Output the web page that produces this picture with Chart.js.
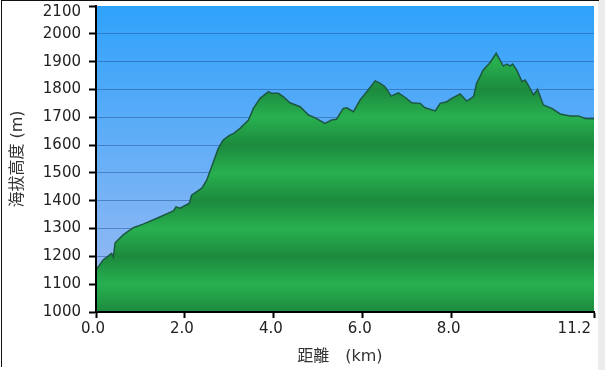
<!DOCTYPE html>
<html>
<head>
<meta charset="utf-8">
<script src="https://cdn.jsdelivr.net/npm/chart.js@4.4.1/dist/chart.umd.min.js"></script>
<style>
  html, body { margin: 0; padding: 0; background: #ffffff; }
  #wrap { position: relative; width: 605px; height: 370px; overflow: hidden; }
  #frame { position: absolute; left: 1px; top: 0; width: 597px; height: 366px;
           border-top: 1px solid #111; border-left: 1px solid #111; pointer-events: none; }
  #strip { position: absolute; left: 598px; top: 0; width: 7px; height: 370px; background: #ececec; }
  canvas { position: absolute; left: 0; top: 0; }
</style>
</head>
<body>
<div id="wrap">
  <canvas id="c" width="605" height="370"></canvas>
  <div id="strip"></div>
  <div id="frame"></div>
</div>
<script>
// ---- data ----
const distanceKm = [
  0.00, 0.16, 0.35, 0.39, 0.43, 0.61, 0.84, 1.06, 1.37, 1.74, 1.80, 1.89,
  2.10, 2.15, 2.38, 2.49, 2.60, 2.75, 2.86, 3.01, 3.10, 3.24, 3.43, 3.54,
  3.69, 3.88, 3.95, 4.10, 4.21, 4.36, 4.59, 4.78, 4.93, 5.15, 5.30, 5.41,
  5.56, 5.64, 5.79, 5.94, 6.09, 6.28, 6.39, 6.50, 6.64, 6.80, 6.95, 7.10,
  7.29, 7.40, 7.63, 7.74, 7.89, 8.00, 8.19, 8.34, 8.49, 8.56, 8.71, 8.86,
  9.00, 9.16, 9.24, 9.31, 9.37, 9.46, 9.58, 9.65, 9.72, 9.84, 9.93, 10.06,
  10.25, 10.44, 10.66, 10.85, 11.00, 11.20
];
const elevationM = [
  1151, 1187, 1211, 1198, 1249, 1277, 1303, 1316, 1337, 1363, 1378, 1373,
  1391, 1420, 1445, 1474, 1522, 1588, 1618, 1636, 1642, 1660, 1690, 1732,
  1768, 1792, 1786, 1786, 1774, 1752, 1738, 1708, 1698, 1678, 1690, 1693,
  1732, 1734, 1720, 1762, 1792, 1831, 1822, 1810, 1776, 1788, 1772, 1752,
  1750, 1734, 1723, 1750, 1756, 1768, 1784, 1758, 1774, 1822, 1870, 1896,
  1930, 1884, 1891, 1884, 1891, 1870, 1828, 1834, 1816, 1780, 1800, 1744,
  1732, 1712, 1705, 1705, 1696, 1695
];
const xTickValues = [0, 2, 4, 6, 8, 11.2];
const xTickLabels = ['0.0', '2.0', '4.0', '6.0', '8.0', '11.2'];
const yMin = 1000, yMax = 2100, yStep = 100;
const xTitle = '距離\u3000(km)';
const yTitle = '海拔高度 (m)';

const points = distanceKm.map((d, i) => ({ x: d, y: elevationM[i] }));

const FONT = "'DejaVu Sans', 'Noto Sans CJK TC', sans-serif";

const skyPlugin = {
  id: 'sky',
  beforeDraw(chart) {
    const { ctx, chartArea: a } = chart;
    if (!a) return;
    const g = ctx.createLinearGradient(0, a.top, 0, a.bottom);
    g.addColorStop(0, '#2fa2fb');
    g.addColorStop(1, '#a0bcf2');
    ctx.save();
    ctx.fillStyle = g;
    ctx.fillRect(a.left, a.top, a.right - a.left, a.bottom - a.top);
    ctx.restore();
  }
};

function groundFill(context) {
  const chart = context.chart;
  const a = chart.chartArea;
  if (!a) return '#1f9a45';
  const ys = chart.scales.y;
  const h = a.bottom - a.top;
  const g = chart.ctx.createLinearGradient(0, a.top, 0, a.bottom);
  for (let v = yMin; v <= yMax; v += yStep) {
    const p = (ys.getPixelForValue(v) - a.top) / h;
    const even = Math.round(v / yStep) % 2 === 0;
    g.addColorStop(Math.min(1, Math.max(0, p)), even ? '#1c8a3d' : '#28b050');
  }
  return g;
}

new Chart(document.getElementById('c'), {
  type: 'line',
  data: {
    datasets: [{
      data: points,
      borderColor: '#1c5842',
      borderWidth: 1.5,
      backgroundColor: groundFill,
      fill: 'start',
      pointRadius: 0,
      tension: 0
    }]
  },
  options: {
    responsive: false,
    animation: false,
    events: [],
    layout: { padding: { top: 6, right: 11, bottom: 0, left: 0 } },
    plugins: { legend: { display: false }, tooltip: { enabled: false } },
    scales: {
      x: {
        type: 'linear',
        min: 0,
        max: 11.2,
        afterBuildTicks(s) { s.ticks = xTickValues.map(v => ({ value: v })); },
        afterFit(s) { s.height = 58; s.paddingLeft = 0; s.paddingRight = 0; },
        ticks: {
          autoSkip: false,
          maxRotation: 0,
          padding: 2,
          labelOffset: -3,
          color: '#222',
          font: { family: FONT, size: 15 },
          callback(v, i) {
            const t = xTickLabels[i];
            return i === xTickLabels.length - 1 ? t + '       ' : t;
          }
        },
        grid: { drawOnChartArea: false, drawTicks: true, tickLength: 6, tickColor: '#000', tickWidth: 2 },
        border: { color: '#000', width: 2, z: 1 },
        title: {
          display: true,
          text: xTitle + '  ',
          color: '#333',
          font: { family: FONT, size: 16 },
          padding: { top: 0, bottom: 4 }
        }
      },
      y: {
        min: yMin,
        max: yMax,
        afterFit(s) { s.width = 96; s.paddingTop = 0; s.paddingBottom = 0; },
        ticks: {
          stepSize: yStep,
          padding: 8,
          color: '#222',
          font(ctx) {
            if (ctx.tick && ctx.tick.value === yMax) return { family: FONT, size: 15, lineHeight: 0.8 };
            return { family: FONT, size: 15 };
          },
          callback(v) { return v === yMax ? ['', String(v)] : String(v); }
        },
        grid: {
          color(ctx) { return ctx.tick && (ctx.tick.value === yMax || ctx.tick.value === yMin) ? 'rgba(0,0,0,0)' : 'rgba(28,70,140,0.45)'; },
          lineWidth: 1,
          drawTicks: true,
          tickLength: 7,
          tickColor: '#000',
          tickWidth: 2
        },
        border: { color: '#000', width: 2, z: 1 },
        title: {
          display: true,
          text: yTitle,
          color: '#333',
          font: { family: FONT, size: 16 },
          padding: { top: 8, bottom: 0 }
        }
      }
    }
  },
  plugins: [skyPlugin]
});
</script>
</body>
</html>
